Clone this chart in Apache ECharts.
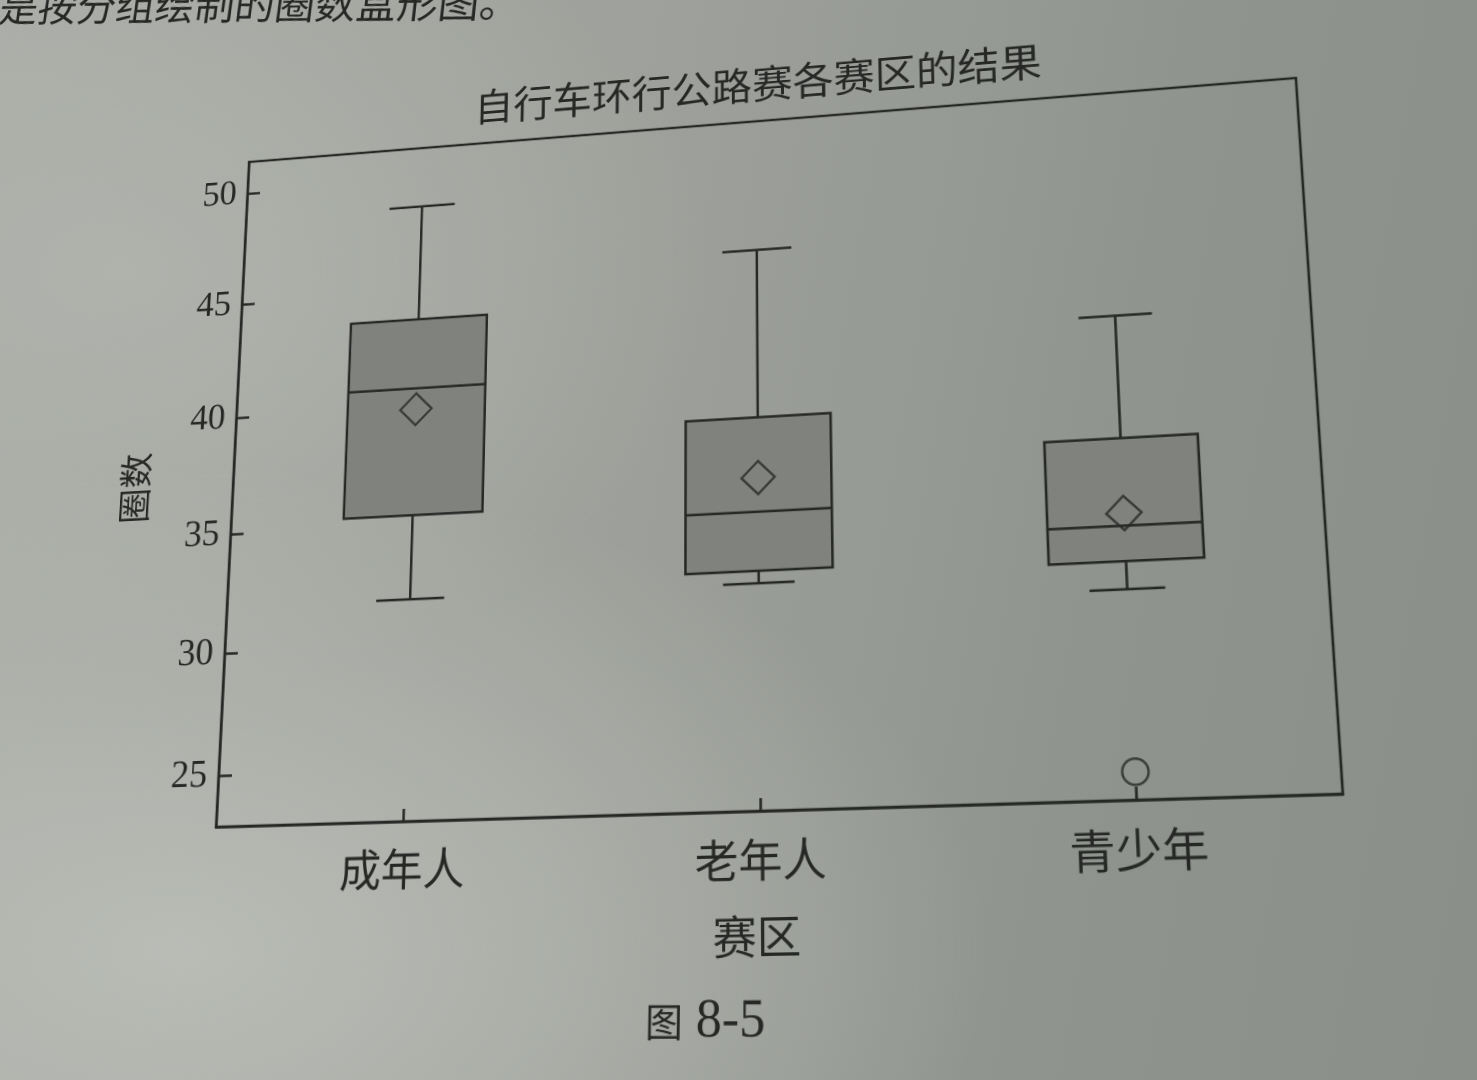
<!DOCTYPE html>
<html>
<head>
<meta charset="utf-8">
<script src="https://cdn.jsdelivr.net/npm/echarts@6/dist/echarts.min.js"></script>
<style>
html,body{margin:0;padding:0;width:1477px;height:1080px;overflow:hidden;}
body{
  background:
    radial-gradient(ellipse 55% 45% at 12% 88%, rgba(186,189,183,0.95) 0%, rgba(186,189,183,0) 100%),
    radial-gradient(ellipse 40% 40% at 8% 25%, rgba(178,181,175,0.8) 0%, rgba(178,181,175,0) 100%),
    linear-gradient(100deg, #a8aba5 0%, #9ea19b 40%, #8f938e 75%, #8b8f8a 100%);
}
#page{position:absolute;left:0;top:0;transform-origin:0 0;filter:blur(0.4px);}
</style>
</head>
<body>
<div id="page"></div>
<script>
// ---------------- data ----------------
const categories = ['成年人', '老年人', '青少年'];
const boxMin    = [31.9, 31.9, 31.0];
const boxQ1     = [35.4, 32.4, 32.1];
const boxMedian = [40.8, 34.8, 33.5];
const boxQ3     = [43.8, 38.7, 37.0];
const boxMax    = [48.8, 45.8, 42.0];
const means     = [39.9, 36.2, 34.0];
const outliers  = [[2, 24.0]];
const yTicks    = [25, 30, 35, 40, 45, 50];
const xTicks    = [0, 1, 2];
const titleText = '自行车环行公路赛各赛区的结果';
const yName = '圈数';
const xName = '赛区';
const captionText = '{a|图}{b| 8-5}';
const topLineText = '是按分组绘制的圈数盒形图。';

// ---------------- page geometry (photo perspective) ----------------
const FL = 350, FT = 250, FW = 1080, FH = 690;
const PW = 2 * FL + FW, PH = 1320;
const photoCorners = [[249,162],[1296,78],[1343,794],[216,827]];
const flatCorners  = [[FL,FT],[FL+FW,FT],[FL+FW,FT+FH],[FL,FT+FH]];

function solveH(src, dst){
  const A = [], b = [];
  for (let i = 0; i < 4; i++){
    const x = src[i][0], y = src[i][1], X = dst[i][0], Y = dst[i][1];
    A.push([x,y,1,0,0,0,-x*X,-y*X]); b.push(X);
    A.push([0,0,0,x,y,1,-x*Y,-y*Y]); b.push(Y);
  }
  const n = 8;
  for (let c = 0; c < n; c++){
    let p = c;
    for (let r = c+1; r < n; r++) if (Math.abs(A[r][c]) > Math.abs(A[p][c])) p = r;
    let t = A[c]; A[c] = A[p]; A[p] = t; t = b[c]; b[c] = b[p]; b[p] = t;
    for (let r = 0; r < n; r++){
      if (r === c) continue;
      const f = A[r][c] / A[c][c];
      for (let k = c; k < n; k++) A[r][k] -= f * A[c][k];
      b[r] -= f * b[c];
    }
  }
  return b.map((v,i) => v / A[i][i]);
}
function inv3(m){
  const [a,b,c] = m[0], [d,e,f] = m[1], [g,h,i] = m[2];
  const A = e*i-f*h, B = -(d*i-f*g), C = d*h-e*g;
  const D = -(b*i-c*h), E = a*i-c*g, F = -(a*h-b*g);
  const G = b*f-c*e, H = -(a*f-c*d), I = a*e-b*d;
  const det = a*A + b*B + c*C;
  return [[A/det, D/det, G/det],[B/det, E/det, H/det],[C/det, F/det, I/det]];
}
const h = solveH(flatCorners, photoCorners);
const page = document.getElementById('page');
page.style.width = PW + 'px';
page.style.height = PH + 'px';
page.style.transform = 'matrix3d(' + [h[0],h[3],0,h[6], h[1],h[4],0,h[7], 0,0,1,0, h[2],h[5],0,1].join(',') + ')';
const Hi = inv3([[h[0],h[1],h[2]],[h[3],h[4],h[5]],[h[6],h[7],1]]);
function toFlat(X, Y){
  const w = Hi[2][0]*X + Hi[2][1]*Y + Hi[2][2];
  return [(Hi[0][0]*X + Hi[0][1]*Y + Hi[0][2]) / w, (Hi[1][0]*X + Hi[1][1]*Y + Hi[1][2]) / w];
}
function seg(ax, ay, bx, by){
  const A = toFlat(ax, ay), B = toFlat(bx, by);
  const dx = B[0]-A[0], dy = B[1]-A[1];
  return {A: A, len: Math.sqrt(dx*dx+dy*dy), rot: -Math.atan2(dy, dx)};
}

// ---------------- styles ----------------
const ink = '#262826';
const boxFill = '#7f827d';
const CJK = "'Noto Sans CJK SC', sans-serif";
const SERIF = "'Liberation Serif', 'Noto Sans CJK SC', serif";
const LW = 2.5;

const titleCenter = toFlat(762, 84);
const topSeg = seg(0, 7, 480, 2);
const capSeg = seg(647, 1022, 763, 1022);
const capCenter = toFlat(705, 1022);
const capScale = capSeg.len / 116;

const chart = echarts.init(page, null, {devicePixelRatio: 2});

const option = {
  animation: false,
  title: {
    text: titleText, left: 'center', top: titleCenter[1] - 25, padding: 0,
    textStyle: {fontFamily: CJK, fontSize: 42, fontWeight: 'normal', color: ink, lineHeight: 50}
  },
  grid: {left: FL, top: FT, width: FW, height: FH, show: true, borderColor: ink, borderWidth: LW, backgroundColor: 'transparent'},
  xAxis: {
    type: 'value', min: -0.547, max: 2.525,
    name: xName, nameLocation: 'middle', nameGap: 94,
    nameTextStyle: {fontFamily: CJK, fontSize: 42, color: ink},
    axisLine: {show: true, onZero: false, lineStyle: {color: ink, width: LW}},
    axisTick: {show: true, inside: true, length: 12, customValues: xTicks, lineStyle: {color: ink, width: LW}},
    axisLabel: {customValues: xTicks, formatter: v => categories[Math.round(v)], margin: 24, fontFamily: CJK, fontSize: 42, color: ink},
    splitLine: {show: false}
  },
  yAxis: {
    type: 'value', min: 22.94, max: 51.44,
    name: yName, nameLocation: 'middle', nameGap: 88, nameRotate: 90,
    nameTextStyle: {fontFamily: CJK, fontSize: 37, color: ink},
    axisLine: {show: true, onZero: false, lineStyle: {color: ink, width: LW}},
    axisTick: {show: true, inside: true, length: 14, customValues: yTicks, lineStyle: {color: ink, width: LW}},
    axisLabel: {customValues: yTicks, margin: 12, fontFamily: SERIF, fontSize: 38, color: ink},
    splitLine: {show: false}
  },
  series: [
    {
      type: 'custom',
      silent: true,
      data: categories.map((c, i) => [i, boxMin[i], boxQ1[i], boxMedian[i], boxQ3[i], boxMax[i]]),
      encode: {x: 0, y: [1, 2, 3, 4, 5]},
      renderItem: function (params, api) {
        const i = api.value(0);
        const band = api.size([1, 0])[0];
        const hw = band * 0.206, cw = band * 0.10;
        const pMin = api.coord([i, api.value(1)]);
        const pQ1 = api.coord([i, api.value(2)]);
        const pMed = api.coord([i, api.value(3)]);
        const pQ3 = api.coord([i, api.value(4)]);
        const pMax = api.coord([i, api.value(5)]);
        const x = pMin[0];
        const ls = {stroke: ink, lineWidth: LW, fill: null};
        return {
          type: 'group',
          children: [
            {type: 'line', shape: {x1: x, y1: pMax[1], x2: x, y2: pQ3[1]}, style: ls},
            {type: 'line', shape: {x1: x - cw, y1: pMax[1], x2: x + cw, y2: pMax[1]}, style: ls},
            {type: 'line', shape: {x1: x, y1: pQ1[1], x2: x, y2: pMin[1]}, style: ls},
            {type: 'line', shape: {x1: x - cw, y1: pMin[1], x2: x + cw, y2: pMin[1]}, style: ls},
            {type: 'rect', shape: {x: x - hw, y: pQ3[1], width: 2 * hw, height: pQ1[1] - pQ3[1]},
             style: {fill: boxFill, stroke: ink, lineWidth: LW}},
            {type: 'line', shape: {x1: x - hw, y1: pMed[1], x2: x + hw, y2: pMed[1]}, style: ls}
          ]
        };
      },
      z: 2
    },
    {
      type: 'scatter', silent: true, z: 3,
      data: categories.map((c, i) => [i, means[i]]),
      symbol: 'diamond', symbolSize: 33,
      itemStyle: {color: 'rgba(0,0,0,0)', borderColor: ink, borderWidth: 2.3}
    },
    {
      type: 'scatter', silent: true, z: 3,
      data: outliers,
      symbol: 'circle', symbolSize: 24,
      itemStyle: {color: 'rgba(0,0,0,0)', borderColor: ink, borderWidth: 2.3}
    }
  ],
  graphic: [
    {
      type: 'text', x: topSeg.A[0], y: topSeg.A[1], rotation: topSeg.rot, silent: true,
      style: {text: topLineText, fontFamily: CJK, fontSize: topSeg.len / 12, fill: ink, align: 'left', verticalAlign: 'middle'}
    },
    {
      type: 'text', x: capCenter[0], y: capCenter[1], rotation: capSeg.rot, silent: true,
      style: {
        text: captionText, align: 'center', verticalAlign: 'middle', fill: ink,
        rich: {
          a: {fontFamily: CJK, fontSize: 38 * capScale, fill: ink},
          b: {fontFamily: SERIF, fontSize: 52 * capScale, fill: ink}
        }
      }
    }
  ]
};
chart.setOption(option);
</script>
</body>
</html>
